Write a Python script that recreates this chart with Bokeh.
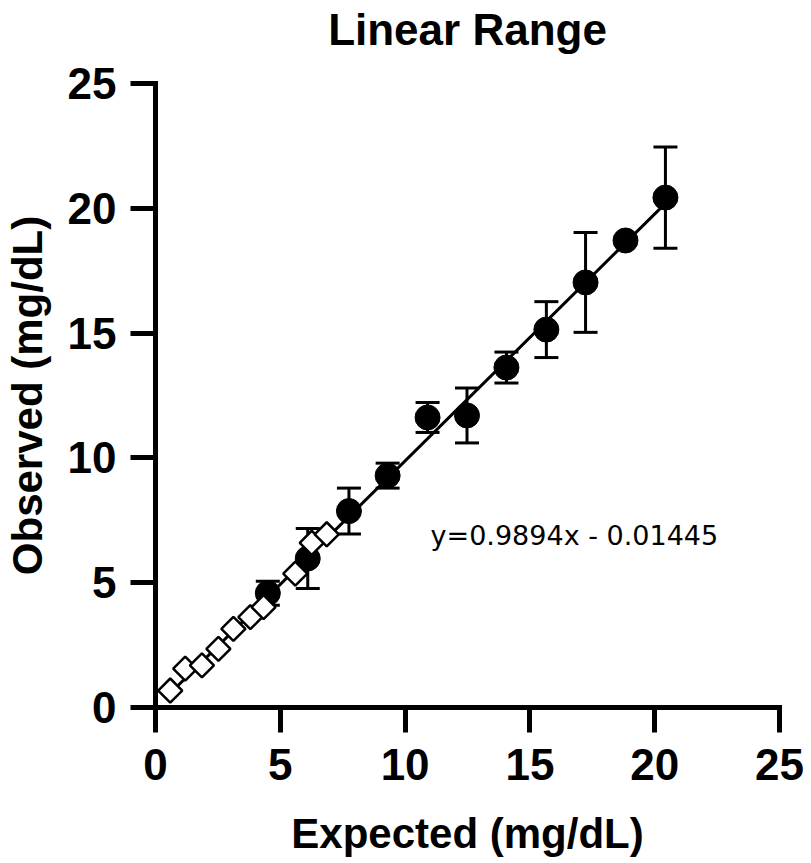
import math
from bokeh.plotting import figure
from bokeh.models import (Range1d, FixedTicker, Whisker, TeeHead, ColumnDataSource,
                          Label, LinearAxis)
from bokeh.embed import file_html
from bokeh.resources import INLINE

# ---------------- data ----------------
title_text = "Linear Range"
x_label = "Expected (mg/dL)"
y_label = "Observed (mg/dL)"
tick_values = [0, 5, 10, 15, 20, 25]

# open diamonds (low range)
expected_low = [0.59, 1.19, 1.86, 2.52, 3.12, 3.80, 4.33, 5.60, 6.26, 6.86]
observed_low = [0.68, 1.56, 1.69, 2.35, 3.15, 3.62, 4.02, 5.36, 6.60, 6.94]

# filled circles with SD error bars
expected_hi = [4.50, 6.10, 7.75, 9.30, 10.90, 12.48, 14.06, 15.66, 17.23, 18.83, 20.43]
observed_hi = [4.58, 5.97, 7.87, 9.29, 11.62, 11.70, 13.62, 15.14, 17.03, 18.71, 20.43]
observed_sd = [0.48, 1.20, 0.92, 0.50, 0.60, 1.10, 0.62, 1.12, 2.00, 0.00, 2.03]

slope = 0.9894
intercept = -0.01445

# ---------------- figure ----------------
p = figure(frame_width=624, frame_height=624,
           x_range=Range1d(0, 25), y_range=Range1d(0, 25),
           output_backend="svg", toolbar_location=None,
           min_border_left=149, min_border_top=83,
           min_border_right=30, min_border_bottom=120,
           background_fill_color="white", border_fill_color="white",
           outline_line_color=None)

p.grid.visible = False

for ax in (p.xaxis[0], p.yaxis[0]):
    ax.ticker = FixedTicker(ticks=tick_values)
    ax.axis_line_width = 5
    ax.axis_line_color = "black"
    ax.axis_line_cap = "square"
    ax.major_tick_line_width = 5
    ax.major_tick_line_color = "black"
    ax.major_tick_out = 25
    ax.major_tick_in = 0
    ax.minor_tick_line_color = None
    ax.major_label_text_font = "Liberation Sans"
    ax.major_label_text_font_style = "bold"
    ax.major_label_text_font_size = "44px"
    ax.major_label_text_color = "black"
    ax.axis_label_text_font = "Liberation Sans"
    ax.axis_label_text_font_style = "bold"
    ax.axis_label_text_font_size = "42px"
    ax.axis_label_text_color = "black"

p.xaxis.axis_label = x_label
p.yaxis.axis_label = y_label
p.xaxis.major_label_standoff = 16
p.xaxis.axis_label_standoff = 27
p.yaxis.major_label_standoff = 14
p.yaxis.axis_label_standoff = 14

# chart title carried by a bare axis above the frame
title_axis = LinearAxis(ticker=FixedTicker(ticks=[]), axis_label=title_text,
                        axis_line_color=None, major_tick_line_color=None,
                        minor_tick_line_color=None, major_tick_out=0, major_tick_in=0,
                        major_label_standoff=0, axis_label_standoff=30,
                        axis_label_text_font="Liberation Sans",
                        axis_label_text_font_style="bold",
                        axis_label_text_font_size="44px",
                        axis_label_text_color="black")
p.add_layout(title_axis, "above")

# regression line
x_fit = [min(expected_low), max(expected_hi)]
y_fit = [slope * v + intercept for v in x_fit]
p.line(x_fit, y_fit, line_color="black", line_width=3)

# error bars
idx = [i for i, s in enumerate(observed_sd) if s > 0]
err_src = ColumnDataSource(data=dict(
    x=[expected_hi[i] for i in idx],
    upper=[observed_hi[i] + observed_sd[i] for i in idx],
    lower=[observed_hi[i] - observed_sd[i] for i in idx],
))
wh = Whisker(base="x", upper="upper", lower="lower", source=err_src,
             line_color="black", line_width=3, level="underlay",
             upper_head=TeeHead(size=24, line_width=3, line_color="black"),
             lower_head=TeeHead(size=24, line_width=3, line_color="black"))
p.add_layout(wh)

# filled circles
p.scatter(expected_hi, observed_hi, marker="circle", size=25,
          fill_color="black", line_color="black", line_width=1)

# open diamonds
p.scatter(expected_low, observed_low, marker="square", size=17, angle=math.pi / 4,
          fill_color="white", line_color="black", line_width=2.5)

# equation
eq = Label(x=11.02, y=6.89, text=f"y={slope}x - {abs(intercept)}",
           text_font="DejaVu Sans", text_font_size="27px",
           text_color="black", text_baseline="alphabetic", text_align="left")
p.add_layout(eq)

open("out.html", "w").write(file_html(p, INLINE))
